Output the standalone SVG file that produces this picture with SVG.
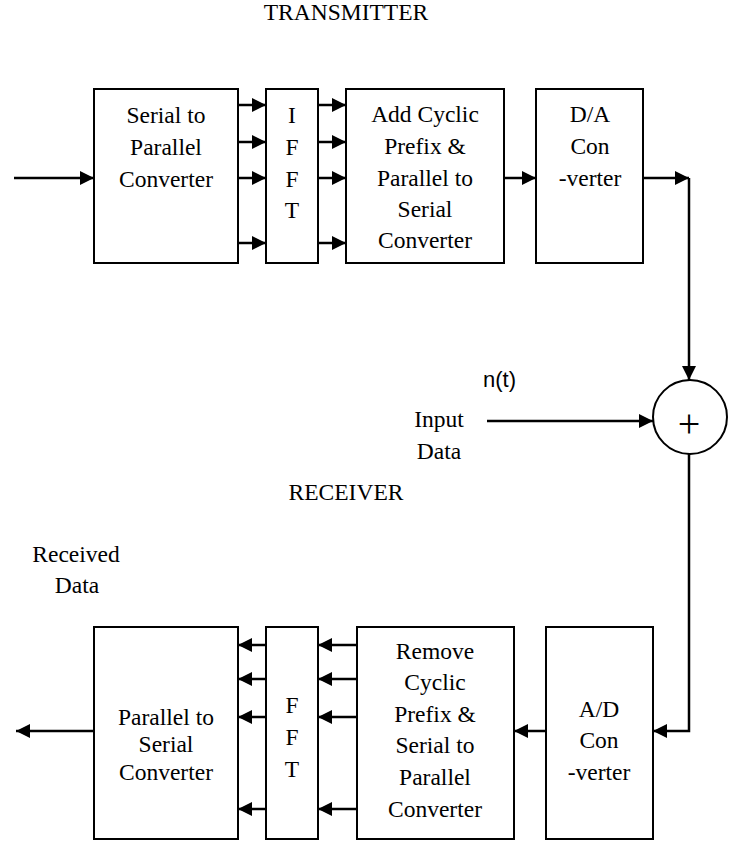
<svg xmlns="http://www.w3.org/2000/svg" width="743" height="843" viewBox="0 0 743 843">
<defs>
<marker id="ah" markerUnits="userSpaceOnUse" markerWidth="15" markerHeight="15" refX="14" refY="7" orient="auto">
<path d="M0,0 L14,7 L0,14 z" fill="#000"/>
</marker>
<style>
.box{fill:#fff;stroke:#000;stroke-width:2}
.t{font-family:"Liberation Serif","Times New Roman",serif;font-size:23.5px;fill:#000;text-anchor:middle}
.c{fill:none;stroke:#000;stroke-width:2.5;marker-end:url(#ah)}
.s{font-family:"Liberation Sans",Arial,sans-serif;font-size:22px;fill:#000}
</style>
</defs>
<rect width="743" height="843" fill="#fff"/>
<text class="t" x="346" y="20">TRANSMITTER</text>
<text class="t" x="346" y="500">RECEIVER</text>
<text class="t" x="76" y="562">Received</text>
<text class="t" x="77" y="593">Data</text>
<text class="t" x="439" y="427">Input</text>
<text class="t" x="439" y="459">Data</text>
<text class="s" x="483" y="387">n(t)</text>

<g id="sp">
<rect class="box" x="94" y="89" width="144" height="174"/>
<text class="t" x="166" y="123">Serial to</text>
<text class="t" x="166" y="155">Parallel</text>
<text class="t" x="166" y="187">Converter</text>
</g>
<g id="ifft">
<rect class="box" x="266" y="89" width="52" height="174"/>
<text class="t" x="292" y="123">I</text>
<text class="t" x="292" y="155">F</text>
<text class="t" x="292" y="187">F</text>
<text class="t" x="292" y="218">T</text>
</g>
<g id="addcp">
<rect class="box" x="346" y="89" width="158" height="174"/>
<text class="t" x="425" y="122">Add Cyclic</text>
<text class="t" x="425" y="154">Prefix &amp;</text>
<text class="t" x="425" y="186">Parallel to</text>
<text class="t" x="425" y="217">Serial</text>
<text class="t" x="425" y="248">Converter</text>
</g>
<g id="da">
<rect class="box" x="536" y="89" width="107" height="174"/>
<text class="t" x="590" y="122">D/A</text>
<text class="t" x="590" y="154">Con</text>
<text class="t" x="590" y="186">-verter</text>
</g>
<g id="sum">
<circle cx="690" cy="417" r="37" fill="#fff" stroke="#000" stroke-width="2"/>
<text x="689" y="437" font-family="Liberation Serif,serif" font-size="40" text-anchor="middle">+</text>
</g>
<g id="ad">
<rect class="box" x="546" y="627" width="107" height="212"/>
<text class="t" x="599" y="717">A/D</text>
<text class="t" x="599" y="748">Con</text>
<text class="t" x="599" y="780">-verter</text>
</g>
<g id="rmcp">
<rect class="box" x="357" y="627" width="157" height="212"/>
<text class="t" x="435" y="659">Remove</text>
<text class="t" x="435" y="690">Cyclic</text>
<text class="t" x="435" y="722">Prefix &amp;</text>
<text class="t" x="435" y="753">Serial to</text>
<text class="t" x="435" y="785">Parallel</text>
<text class="t" x="435" y="817">Converter</text>
</g>
<g id="fft">
<rect class="box" x="266" y="627" width="52" height="212"/>
<text class="t" x="292" y="713">F</text>
<text class="t" x="292" y="745">F</text>
<text class="t" x="292" y="777">T</text>
</g>
<g id="ps">
<rect class="box" x="94" y="627" width="144" height="212"/>
<text class="t" x="166" y="725">Parallel to</text>
<text class="t" x="166" y="752">Serial</text>
<text class="t" x="166" y="780">Converter</text>
</g>

<g id="connectors">
<path class="c" d="M14,178 H94"/>
<path class="c" d="M238,105 H266"/>
<path class="c" d="M238,142 H266"/>
<path class="c" d="M238,178 H266"/>
<path class="c" d="M238,243 H266"/>
<path class="c" d="M318,105 H346"/>
<path class="c" d="M318,142 H346"/>
<path class="c" d="M318,178 H346"/>
<path class="c" d="M318,243 H346"/>
<path class="c" d="M504,178 H536"/>
<path class="c" d="M643,178 H689"/>
<path class="c" d="M689,178 V380"/>
<path class="c" d="M487,421 H653"/>
<path class="c" d="M689,454 V731 H653"/>
<path class="c" d="M546,731 H514"/>
<path class="c" d="M357,645 H318"/>
<path class="c" d="M357,679 H318"/>
<path class="c" d="M357,717 H318"/>
<path class="c" d="M357,809 H318"/>
<path class="c" d="M266,645 H238"/>
<path class="c" d="M266,679 H238"/>
<path class="c" d="M266,717 H238"/>
<path class="c" d="M266,809 H238"/>
<path class="c" d="M94,731 H16"/>
</g>
</svg>
